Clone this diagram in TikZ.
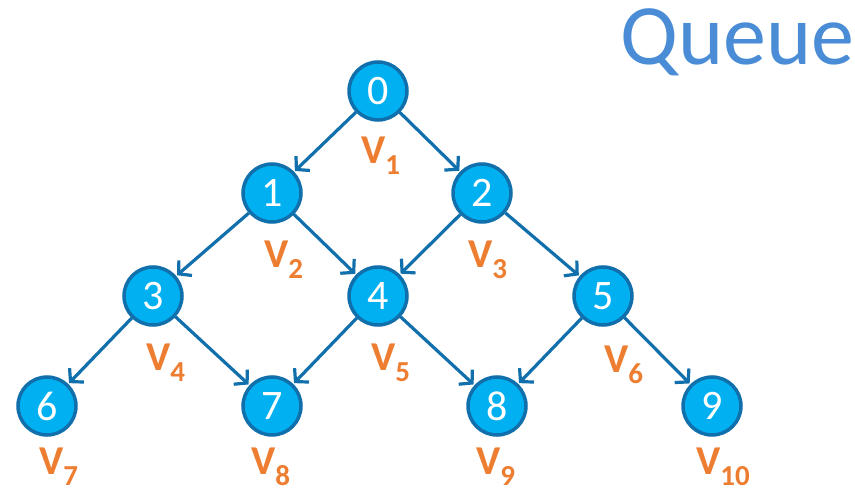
\documentclass[tikz,border=0pt]{standalone}
\usepackage{fontspec}
\setmainfont{Carlito}
\usetikzlibrary{arrows.meta}
\definecolor{nodefill}{HTML}{00B0F0}
\definecolor{nodeline}{HTML}{1170AC}
\definecolor{vlab}{HTML}{ED7D31}
\definecolor{qblue}{HTML}{4A8CD6}
\tikzset{
  vert/.style={circle, fill=nodefill, draw=nodeline, line width=3.5pt, minimum size=58pt, inner sep=0pt, text=white, font=\fontsize{42}{42}\selectfont},
  edge/.style={draw=nodeline, line width=3.2pt, -{Straight Barb[length=9pt,width=20pt,line width=3.2pt]}, shorten >=1pt},
  vlabel/.style={anchor=base west, inner sep=0pt, text=vlab, font=\bfseries\fontsize{41}{41}\selectfont},
}
\newcommand{\vsub}[1]{V\raisebox{-11pt}{\fontsize{29}{29}\selectfont #1}}
\begin{document}
\begin{tikzpicture}[x=1pt,y=-1pt]
\useasboundingbox (0,0) rectangle (855,492);
\node[anchor=base west, inner sep=0pt, text=qblue, font=\fontsize{86}{86}\selectfont] (title) at (620,65) {Queue};
\node[vert] (n0) at (378,91) {0};
\node[vert] (n1) at (272,193) {1};
\node[vert] (n2) at (482,193) {2};
\node[vert] (n3) at (153,296) {3};
\node[vert] (n4) at (378,296) {4};
\node[vert] (n5) at (603,296) {5};
\node[vert] (n6) at (47,406) {6};
\node[vert] (n7) at (272,406) {7};
\node[vert] (n8) at (497,406) {8};
\node[vert] (n9) at (712,406) {9};
\path[edge] (n0) -- (n1);
\path[edge] (n0) -- (n2);
\path[edge] (n1) -- (n3);
\path[edge] (n1) -- (n4);
\path[edge] (n2) -- (n4);
\path[edge] (n2) -- (n5);
\path[edge] (n3) -- (n6);
\path[edge] (n3) -- (n7);
\path[edge] (n4) -- (n7);
\path[edge] (n4) -- (n8);
\path[edge] (n5) -- (n8);
\path[edge] (n5) -- (n9);
\node[vlabel] (v1) at (361,164) {\vsub{1}};
\node[vlabel] (v2) at (264,268) {\vsub{2}};
\node[vlabel] (v3) at (468,268) {\vsub{3}};
\node[vlabel] (v4) at (146,370) {\vsub{4}};
\node[vlabel] (v5) at (371,370) {\vsub{5}};
\node[vlabel] (v6) at (604,372) {\vsub{6}};
\node[vlabel] (v7) at (39,474) {\vsub{7}};
\node[vlabel] (v8) at (251,474) {\vsub{8}};
\node[vlabel] (v9) at (476,474) {\vsub{9}};
\node[vlabel] (v10) at (696,474) {\vsub{10}};
\end{tikzpicture}
\end{document}
